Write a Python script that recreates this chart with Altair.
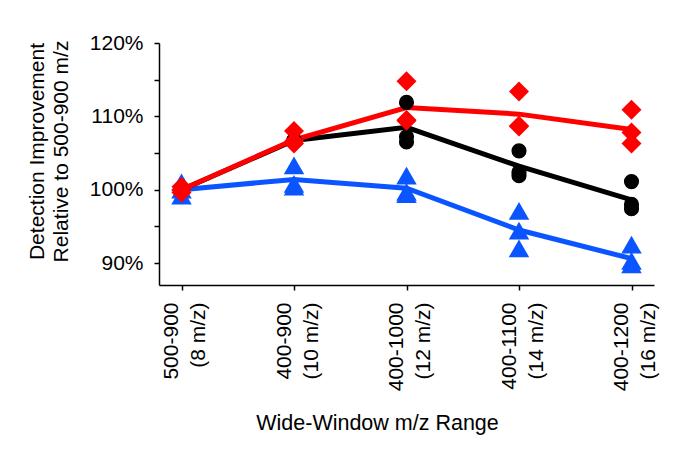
import altair as alt
import pandas as pd

categories = ["500-900 (8 m/z)", "400-900 (10 m/z)", "400-1000 (12 m/z)",
              "400-1100 (14 m/z)", "400-1200 (16 m/z)"]
series_names = ["Blue", "Black", "Red"]
series_colors = ["#0A55FF", "#000000", "#FF0000"]
series_shapes = ["triangle-up", "circle", "diamond"]
series_sizes = [420, 230, 400]

# line (mean) values, fraction of 500-900 m/z
line_blue = [1.000, 1.014, 1.002, 0.945, 0.906]
line_black = [1.000, 1.067, 1.085, 1.032, 0.986]
line_red = [1.000, 1.068, 1.112, 1.103, 1.082]

# replicate points: one list per category, three replicates each
pts_blue = [[1.010, 0.992, 1.000], [1.033, 1.008, 1.004], [1.019, 0.997, 0.994],
            [0.971, 0.944, 0.920], [0.925, 0.903, 0.898]]
pts_black = [[1.000, 1.000, 1.000], [1.066, 1.067, 1.068], [1.119, 1.072, 1.065],
             [1.053, 1.024, 1.019], [1.011, 0.980, 0.974]]
pts_red = [[1.004, 0.996, 1.000], [1.080, 1.066, 1.063], [1.148, 1.095, 1.094],
           [1.134, 1.087, 1.086], [1.109, 1.078, 1.063]]

y_ticks = [0.90, 0.95, 1.00, 1.05, 1.10, 1.15, 1.20]

line_rows = []
for name, vals in zip(series_names, [line_blue, line_black, line_red]):
    for i, (c, v) in enumerate(zip(categories, vals)):
        line_rows.append({"cat": c, "val": v, "series": name, "order": i})
line_df = pd.DataFrame(line_rows)

pt_rows = []
for name, groups in zip(series_names, [pts_blue, pts_black, pts_red]):
    for c, g in zip(categories, groups):
        for v in g:
            pt_rows.append({"cat": c, "val": v, "series": name})
pt_df = pd.DataFrame(pt_rows)

FONT = "Liberation Sans"
FS = 21

x_enc = alt.X(
    "cat:N",
    sort=categories,
    scale=alt.Scale(type="point", padding=0.2),
    axis=alt.Axis(
        title="Wide-Window m/z Range",
        labelAngle=-90,
        labelExpr="[split(datum.value, ' (')[0], '(' + split(datum.value, ' (')[1]]",
        labelLineHeight=27,
        labelPadding=12,
        labelOffset=-10,
        tickSize=5,
        titlePadding=22,
        titleX=218,
        titleAlign="center",
        titleFontSize=21.5,
    ),
)
y_enc = alt.Y(
    "val:Q",
    scale=alt.Scale(domain=[0.87, 1.2], nice=False, zero=False),
    axis=alt.Axis(
        title=["Detection Improvement", "Relative to 500-900 m/z"],
        values=y_ticks,
        format=".0%",
        labelExpr="(round(datum.value * 100) % 10 == 0) ? datum.label : ''",
        tickSize=5,
        labelPadding=11,
        titlePadding=18,
        titleLineHeight=24,
        titleY=108,
    ),
)

color_scale = alt.Scale(domain=series_names, range=series_colors)

lines = alt.Chart(line_df).mark_line(strokeWidth=5).encode(
    x=x_enc,
    y=y_enc,
    color=alt.Color("series:N", scale=color_scale, legend=None, sort=series_names),
    detail="series:N",
    order="order:Q",
)

point_layers = []
for name, color, shape, size in zip(series_names, series_colors, series_shapes, series_sizes):
    point_layers.append(
        alt.Chart(pt_df)
        .transform_filter(alt.datum.series == name)
        .mark_point(filled=True, opacity=1, shape=shape, size=size, color=color, strokeWidth=0)
        .encode(x=x_enc, y=y_enc)
    )

chart = alt.layer(lines, *point_layers).properties(
    width=495,
    height=242,
    padding={"left": 18, "top": 24, "right": 5, "bottom": 5},
    background="white",
).configure_view(stroke=None).configure_axis(
    grid=False,
    domainColor="black",
    domainWidth=1.5,
    tickColor="black",
    tickWidth=1.5,
    labelFont=FONT,
    labelFontSize=FS,
    labelColor="black",
    titleFont=FONT,
    titleFontSize=FS,
    titleFontWeight="normal",
    titleColor="black",
)

chart.save("out.html", embed_options={"renderer": "svg", "actions": False})
